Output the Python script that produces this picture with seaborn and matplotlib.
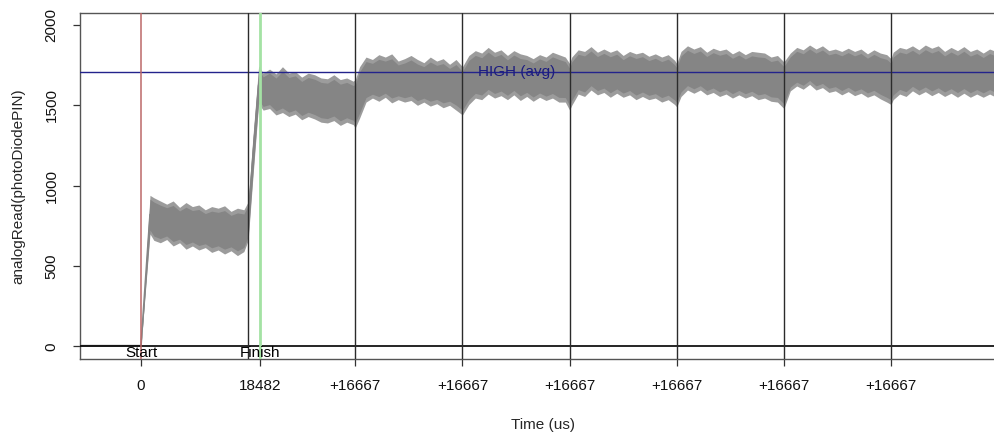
import numpy as np
import pandas as pd
import matplotlib
matplotlib.use("Agg")
import matplotlib.pyplot as plt
import seaborn as sns

# ---------------- data ----------------
# time in microseconds, upper / lower envelope of the noisy analogRead trace
t_us = [-9400, -100, 0, 1400, 2000, 3000, 4000, 5000, 6000, 7000, 8000, 9000,
        10000, 11000, 12000, 13000, 14000, 15000, 16000, 16667, 17400, 18300,
        19000, 20000, 21000, 22000, 23000, 24000, 25000, 26000, 27000, 28000,
        29000, 30000, 31000, 32000, 33000, 33333, 34000, 35000,
        36000, 37000, 38000, 39000, 40000, 41000, 42000, 43000, 44000, 45000,
        46000, 47000, 48000, 49000, 50000,
        51000, 52000, 53000, 54000, 55000, 56000, 57000, 58000, 59000, 60000,
        61000, 62000, 63000, 64000, 65000, 66000, 66667,
        67000, 68000, 69000, 70000, 71000, 72000, 73000, 74000, 75000, 76000,
        77000, 78000, 79000, 80000, 81000, 82000, 83000, 83333,
        84000, 85000, 86000, 87000, 88000, 89000, 90000, 91000, 92000, 93000,
        94000, 95000, 96000, 97000, 98000, 99000, 100000,
        101000, 102000, 103000, 104000, 105000, 106000, 107000, 108000, 109000,
        110000, 111000, 112000, 113000, 114000, 115000, 116000, 116667,
        117000, 118000, 119000, 120000, 121000, 122000, 123000, 124000, 125000,
        126000, 127000, 128000, 129000, 130000, 131000, 132000, 133000, 134000]

upper = [6, 6, 8, 940, 925, 905, 885, 905, 865, 895, 870, 880,
         850, 870, 860, 875, 840, 860, 850, 900, 1300, 1745,
         1700, 1725, 1695, 1740, 1700, 1710, 1675, 1700, 1690, 1670,
         1665, 1690, 1660, 1670, 1650, 1660, 1740, 1800,
         1785, 1815, 1800, 1820, 1775, 1790, 1810, 1785, 1765, 1800,
         1775, 1790, 1755, 1785, 1740,
         1810, 1840, 1825, 1860, 1830, 1845, 1810, 1840, 1820, 1810,
         1790, 1815, 1800, 1830, 1815, 1800, 1760,
         1800, 1845, 1835, 1865, 1830, 1850, 1830, 1845, 1810, 1835,
         1820, 1830, 1805, 1820, 1800, 1815, 1780, 1760,
         1835, 1870, 1850, 1865, 1830, 1855, 1840, 1850, 1820, 1840,
         1815, 1835, 1830, 1825, 1800, 1810, 1770,
         1825, 1860, 1845, 1875, 1850, 1870, 1840, 1850, 1835,
         1855, 1835, 1850, 1820, 1845, 1825, 1815, 1790,
         1830, 1860, 1850, 1870, 1845, 1875, 1855, 1870, 1835,
         1860, 1840, 1865, 1835, 1850, 1825, 1850, 1835, 1840]

lower = [4, 4, 0, 700, 660, 645, 665, 625, 645, 605, 625, 600,
         615, 585, 600, 575, 595, 565, 590, 660, 1050, 1510,
         1470, 1480, 1440, 1455, 1430, 1445, 1410, 1430, 1415, 1395,
         1390, 1405, 1375, 1395, 1380, 1360, 1420, 1520,
         1545, 1525, 1550, 1515, 1535, 1520, 1530, 1500, 1520, 1495,
         1510, 1485, 1500, 1470, 1440,
         1505, 1545, 1535, 1570, 1545, 1560, 1535, 1565, 1530, 1555,
         1525, 1550, 1530, 1545, 1520, 1520, 1470,
         1500, 1570, 1555, 1595, 1565, 1580, 1550, 1575, 1550, 1565,
         1535, 1555, 1535, 1545, 1520, 1535, 1505, 1490,
         1555, 1595, 1575, 1595, 1565, 1580, 1555, 1570, 1545, 1565,
         1545, 1560, 1535, 1545, 1525, 1520, 1480,
         1590, 1620, 1600, 1630, 1595, 1610, 1580, 1590, 1565,
         1585, 1560, 1575, 1550, 1565, 1540, 1520, 1505,
         1535, 1570, 1555, 1590, 1565, 1585, 1560, 1580, 1555,
         1575, 1550, 1575, 1550, 1570, 1550, 1570, 1550, 1560]

high_avg = 1705
start_t = 0
finish_t = 18482
frame_lines = [16667, 33333, 50000, 66667, 83333, 100000, 116667]
x_ticks = [0, 18482, 33333, 50000, 66667, 83333, 100000, 116667]
x_tick_labels = ["0", "18482", "+16667", "+16667", "+16667", "+16667",
                 "+16667", "+16667"]
y_ticks = [0, 500, 1000, 1500, 2000]

# ---------------- figure ----------------
sns.set_style("ticks")
plt.rcParams["font.family"] = ["Liberation Sans", "DejaVu Sans"]

W, H = 995, 436
ax_left, ax_right, ax_top, ax_bottom = 80, 1100, 12.7, 359.3   # pixels
fig = plt.figure(figsize=(W / 100, H / 100), dpi=100)
ax = fig.add_axes([ax_left / W, 1 - ax_bottom / H, (ax_right - ax_left) / W,
                   (ax_bottom - ax_top) / H])

df = pd.DataFrame({
    "t": list(t_us) + list(t_us),
    "v": list(upper) + list(lower),
})

sns.lineplot(data=df, x="t", y="v", estimator="mean", errorbar=("pi", 100),
             color="#9c9c9c", linewidth=0, err_kws={"alpha": 1, "linewidth": 0},
             ax=ax, zorder=2)
sns.lineplot(data=df, x="t", y="v", estimator="mean", errorbar=("pi", 80),
             color="#858585", linewidth=1.2,
             err_kws={"alpha": 1, "linewidth": 0}, ax=ax, zorder=3)

# reference lines
ax.axhline(0, color="black", lw=1.2, zorder=4)
ax.axhline(high_avg, color="#23238c", lw=1, zorder=4)
for fl in frame_lines:
    ax.axvline(fl, color="#2b2b2b", lw=1, zorder=4)
ax.axvline(start_t, color="#bc6868", lw=1.1, zorder=5)
ax.axvline(finish_t, color="#a4e2a4", lw=2.0, zorder=5)

ax.text(start_t, -42, "Start", ha="center", va="center", fontsize=11,
        color="black", zorder=6)
ax.text(finish_t, -42, "Finish", ha="center", va="center", fontsize=11,
        color="black", zorder=6)
ax.text(58480, high_avg, "HIGH (avg)", ha="center", va="center", fontsize=11,
        color="#1c1c80", zorder=6)

# x scale: 0 us at 141 px, 0.006429 px per us
ax.set_xlim(-9488, -9488 + (ax_right - ax_left) / 0.006429)
ax.set_ylim(-80, 2076)

ax.set_xticks(x_ticks)
ax.set_xticklabels(x_tick_labels)
ax.set_yticks(y_ticks)
ax.set_yticklabels([str(v) for v in y_ticks])

ax.tick_params(axis="both", length=5, width=0.9, color="#333333",
               labelsize=11, labelcolor="#111111", direction="out")
ax.tick_params(axis="x", pad=9.5)
ax.tick_params(axis="y", pad=10.5)
for lbl in ax.get_yticklabels():
    lbl.set_rotation(90)
    lbl.set_va("center")

for side in ["left", "top", "bottom"]:
    ax.spines[side].set_visible(True)
    ax.spines[side].set_color("#555555")
    ax.spines[side].set_linewidth(1)
ax.spines["right"].set_visible(False)

ax.set_xlabel("Time (us)", fontsize=11, va="center")
ax.xaxis.set_label_coords((543 - ax_left) / (ax_right - ax_left),
                          (ax_bottom - 425) / (ax_bottom - ax_top))
ax.set_ylabel("analogRead(photoDiodePIN)", fontsize=11, va="center")
ax.yaxis.set_label_coords((18 - ax_left) / (ax_right - ax_left), 0.5)

fig.savefig("out.png", dpi=100)
